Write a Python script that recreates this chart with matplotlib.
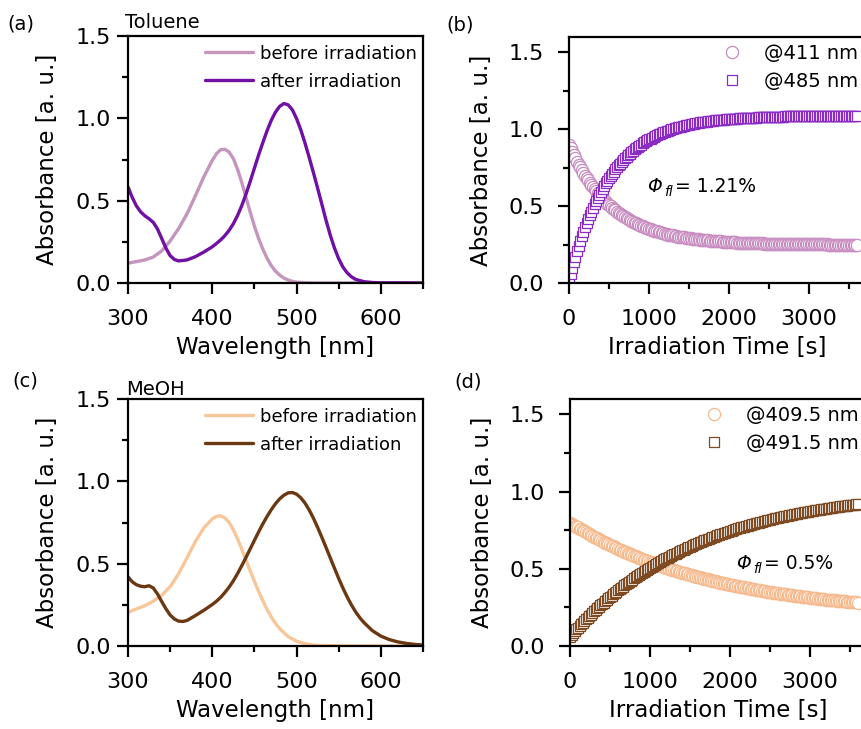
import matplotlib
matplotlib.use("Agg")
import matplotlib.pyplot as plt
from matplotlib.ticker import MultipleLocator, FormatStrFormatter
from matplotlib.transforms import offset_copy

plt.rcParams['font.family'] = ['DejaVu Sans']

# ---------------- UV-vis spectra ----------------
# Toluene
tol_wl_before = [300, 310, 320, 330, 340, 350, 360, 370, 380, 390, 400, 405, 410, 415, 420,
                 425, 430, 435, 440, 445, 450, 455, 460, 465, 470, 475, 480, 485, 490, 495,
                 500, 510, 520, 550, 600, 650]
tol_abs_before = [0.120, 0.130, 0.140, 0.158, 0.195, 0.255, 0.330, 0.420, 0.530, 0.645, 0.745,
                  0.785, 0.810, 0.812, 0.795, 0.755, 0.690, 0.610, 0.520, 0.430, 0.345, 0.270,
                  0.205, 0.150, 0.105, 0.072, 0.048, 0.030, 0.018, 0.010, 0.005, 0.002, 0.0,
                  0.0, 0.0, 0.0]
tol_wl_after = [300, 305, 310, 315, 320, 325, 330, 335, 340, 345, 350, 355, 360, 370, 380, 390,
                400, 405, 410, 415, 420, 425, 430, 435, 440, 445, 450, 455, 460, 465, 470, 475,
                480, 485, 490, 495, 500, 505, 510, 515, 520, 525, 530, 535, 540, 545, 550, 555,
                560, 565, 570, 580, 590, 600, 650]
tol_abs_after = [0.584, 0.520, 0.468, 0.432, 0.408, 0.390, 0.368, 0.328, 0.270, 0.212, 0.166,
                 0.143, 0.134, 0.140, 0.160, 0.188, 0.220, 0.240, 0.262, 0.288, 0.320, 0.360,
                 0.410, 0.470, 0.540, 0.617, 0.698, 0.778, 0.853, 0.925, 0.988, 1.038, 1.073,
                 1.090, 1.082, 1.052, 0.998, 0.930, 0.850, 0.762, 0.670, 0.575, 0.478, 0.380,
                 0.290, 0.212, 0.147, 0.097, 0.062, 0.038, 0.022, 0.008, 0.003, 0.001, 0.0]

# MeOH
meoh_wl_before = [300, 310, 320, 330, 340, 350, 360, 370, 380, 390, 400, 405, 410, 415, 420,
                  425, 430, 435, 440, 445, 450, 455, 460, 465, 470, 475, 480, 490, 500, 510,
                  520, 530, 550, 600, 650]
meoh_abs_before = [0.205, 0.225, 0.245, 0.272, 0.308, 0.360, 0.438, 0.535, 0.635, 0.718, 0.772,
                   0.787, 0.790, 0.778, 0.750, 0.706, 0.650, 0.588, 0.522, 0.456, 0.392, 0.332,
                   0.274, 0.222, 0.176, 0.137, 0.104, 0.057, 0.029, 0.014, 0.006, 0.003, 0.001,
                   0.0, 0.0]
meoh_wl_after = [300, 305, 310, 315, 320, 325, 330, 335, 340, 345, 350, 355, 360, 365, 370,
                 380, 390, 400, 405, 410, 415, 420, 425, 430, 435, 440, 445, 450, 455, 460,
                 465, 470, 475, 480, 485, 490, 495, 500, 505, 510, 515, 520, 525, 530, 535,
                 540, 545, 550, 555, 560, 565, 570, 575, 580, 590, 600, 610, 620, 630, 640,
                 650]
meoh_abs_after = [0.420, 0.390, 0.372, 0.363, 0.360, 0.366, 0.352, 0.316, 0.270, 0.226, 0.188,
                  0.164, 0.151, 0.149, 0.155, 0.185, 0.217, 0.252, 0.272, 0.296, 0.325, 0.358,
                  0.396, 0.440, 0.488, 0.538, 0.590, 0.642, 0.693, 0.742, 0.787, 0.828, 0.864,
                  0.894, 0.916, 0.930, 0.932, 0.922, 0.900, 0.868, 0.826, 0.776, 0.720, 0.660,
                  0.598, 0.535, 0.472, 0.410, 0.352, 0.298, 0.250, 0.208, 0.172, 0.142, 0.093,
                  0.060, 0.039, 0.025, 0.016, 0.010, 0.006]

# ---------------- Kinetics under irradiation ----------------
time_s = list(range(0, 3601, 20))

tol_411 = [
    0.900, 0.876, 0.854, 0.832, 0.810, 0.790, 0.770, 0.752, 0.733, 0.716,
    0.699, 0.683, 0.667, 0.652, 0.637, 0.623, 0.609, 0.596, 0.584, 0.572,
    0.560, 0.549, 0.538, 0.527, 0.517, 0.508, 0.498, 0.489, 0.480, 0.472,
    0.464, 0.456, 0.449, 0.441, 0.435, 0.428, 0.421, 0.415, 0.409, 0.403,
    0.398, 0.392, 0.387, 0.382, 0.377, 0.373, 0.368, 0.364, 0.360, 0.356,
    0.352, 0.348, 0.345, 0.341, 0.338, 0.335, 0.332, 0.329, 0.326, 0.323,
    0.320, 0.318, 0.315, 0.313, 0.311, 0.309, 0.306, 0.304, 0.302, 0.301,
    0.299, 0.297, 0.296, 0.294, 0.293, 0.291, 0.290, 0.288, 0.287, 0.285,
    0.284, 0.283, 0.282, 0.281, 0.280, 0.279, 0.278, 0.277, 0.276, 0.275,
    0.274, 0.273, 0.272, 0.271, 0.271, 0.270, 0.269, 0.268, 0.267, 0.267,
    0.266, 0.265, 0.265, 0.264, 0.264, 0.263, 0.263, 0.262, 0.262, 0.261,
    0.261, 0.260, 0.260, 0.259, 0.259, 0.259, 0.258, 0.258, 0.258, 0.257,
    0.257, 0.257, 0.256, 0.256, 0.256, 0.256, 0.255, 0.255, 0.255, 0.255,
    0.255, 0.254, 0.254, 0.254, 0.254, 0.254, 0.253, 0.253, 0.253, 0.253,
    0.253, 0.253, 0.253, 0.252, 0.252, 0.252, 0.252, 0.252, 0.252, 0.252,
    0.252, 0.251, 0.251, 0.251, 0.251, 0.251, 0.251, 0.251, 0.251, 0.251,
    0.251, 0.251, 0.250, 0.250, 0.250, 0.250, 0.250, 0.250, 0.250, 0.250,
    0.250, 0.250, 0.250, 0.250, 0.250, 0.250, 0.250, 0.250, 0.250, 0.250,
    0.250]

tol_485 = [
    0.020, 0.060, 0.099, 0.137, 0.172, 0.207, 0.240, 0.273, 0.303, 0.333,
    0.362, 0.389, 0.416, 0.441, 0.465, 0.489, 0.512, 0.534, 0.555, 0.575,
    0.594, 0.613, 0.631, 0.648, 0.665, 0.681, 0.696, 0.711, 0.725, 0.739,
    0.752, 0.765, 0.777, 0.789, 0.801, 0.811, 0.822, 0.832, 0.842, 0.851,
    0.860, 0.869, 0.877, 0.885, 0.893, 0.900, 0.908, 0.914, 0.921, 0.927,
    0.934, 0.939, 0.945, 0.951, 0.956, 0.961, 0.966, 0.970, 0.975, 0.979,
    0.983, 0.987, 0.991, 0.995, 0.999, 1.002, 1.005, 1.009, 1.012, 1.015,
    1.017, 1.020, 1.023, 1.025, 1.028, 1.030, 1.032, 1.034, 1.037, 1.038,
    1.041, 1.042, 1.044, 1.046, 1.047, 1.049, 1.050, 1.052, 1.053, 1.054,
    1.056, 1.057, 1.058, 1.059, 1.060, 1.061, 1.062, 1.063, 1.064, 1.065,
    1.066, 1.067, 1.067, 1.068, 1.069, 1.069, 1.070, 1.071, 1.071, 1.072,
    1.073, 1.073, 1.074, 1.074, 1.075, 1.075, 1.076, 1.076, 1.077, 1.077,
    1.078, 1.078, 1.078, 1.079, 1.079, 1.080, 1.080, 1.080, 1.081, 1.081,
    1.081, 1.082, 1.082, 1.082, 1.082, 1.083, 1.083, 1.083, 1.083, 1.084,
    1.084, 1.084, 1.084, 1.084, 1.085, 1.085, 1.085, 1.085, 1.085, 1.085,
    1.086, 1.086, 1.086, 1.086, 1.086, 1.086, 1.086, 1.087, 1.087, 1.087,
    1.087, 1.087, 1.087, 1.087, 1.087, 1.087, 1.088, 1.088, 1.088, 1.088,
    1.088, 1.088, 1.088, 1.088, 1.088, 1.088, 1.088, 1.088, 1.088, 1.088,
    1.088]

meoh_409 = [
    0.800, 0.793, 0.787, 0.780, 0.774, 0.768, 0.761, 0.755, 0.749, 0.743,
    0.737, 0.731, 0.725, 0.720, 0.714, 0.708, 0.702, 0.697, 0.691, 0.686,
    0.680, 0.675, 0.670, 0.665, 0.660, 0.655, 0.650, 0.645, 0.640, 0.635,
    0.630, 0.625, 0.621, 0.616, 0.612, 0.607, 0.602, 0.598, 0.594, 0.589,
    0.585, 0.581, 0.577, 0.572, 0.568, 0.564, 0.560, 0.556, 0.552, 0.548,
    0.544, 0.541, 0.537, 0.533, 0.530, 0.526, 0.522, 0.519, 0.515, 0.512,
    0.508, 0.505, 0.501, 0.498, 0.495, 0.491, 0.488, 0.485, 0.482, 0.479,
    0.476, 0.473, 0.470, 0.467, 0.464, 0.461, 0.458, 0.455, 0.452, 0.449,
    0.447, 0.444, 0.441, 0.439, 0.436, 0.433, 0.431, 0.428, 0.426, 0.423,
    0.421, 0.418, 0.416, 0.414, 0.411, 0.409, 0.407, 0.404, 0.402, 0.400,
    0.398, 0.395, 0.393, 0.391, 0.389, 0.387, 0.385, 0.383, 0.381, 0.379,
    0.377, 0.375, 0.373, 0.371, 0.369, 0.367, 0.365, 0.364, 0.362, 0.360,
    0.358, 0.356, 0.355, 0.353, 0.351, 0.350, 0.348, 0.346, 0.345, 0.343,
    0.342, 0.340, 0.338, 0.337, 0.335, 0.334, 0.332, 0.331, 0.329, 0.328,
    0.327, 0.325, 0.324, 0.322, 0.321, 0.320, 0.319, 0.317, 0.316, 0.315,
    0.313, 0.312, 0.311, 0.310, 0.308, 0.307, 0.306, 0.305, 0.304, 0.302,
    0.301, 0.300, 0.299, 0.298, 0.297, 0.296, 0.295, 0.294, 0.293, 0.292,
    0.291, 0.290, 0.289, 0.288, 0.287, 0.286, 0.285, 0.284, 0.283, 0.282,
    0.281]

meoh_491 = [
    0.060, 0.072, 0.083, 0.095, 0.107, 0.118, 0.129, 0.140, 0.151, 0.162,
    0.173, 0.183, 0.193, 0.204, 0.214, 0.224, 0.234, 0.244, 0.253, 0.263,
    0.272, 0.281, 0.291, 0.300, 0.309, 0.318, 0.326, 0.335, 0.343, 0.352,
    0.360, 0.368, 0.376, 0.384, 0.392, 0.400, 0.408, 0.415, 0.423, 0.430,
    0.438, 0.445, 0.452, 0.459, 0.466, 0.473, 0.480, 0.486, 0.493, 0.500,
    0.506, 0.512, 0.519, 0.525, 0.531, 0.537, 0.543, 0.549, 0.555, 0.561,
    0.567, 0.572, 0.578, 0.583, 0.589, 0.594, 0.599, 0.604, 0.609, 0.615,
    0.620, 0.625, 0.629, 0.634, 0.639, 0.644, 0.649, 0.653, 0.658, 0.662,
    0.667, 0.671, 0.676, 0.680, 0.684, 0.688, 0.692, 0.696, 0.700, 0.704,
    0.708, 0.712, 0.716, 0.720, 0.723, 0.727, 0.731, 0.734, 0.738, 0.741,
    0.745, 0.748, 0.752, 0.755, 0.758, 0.762, 0.765, 0.768, 0.771, 0.774,
    0.777, 0.780, 0.783, 0.786, 0.789, 0.792, 0.795, 0.798, 0.800, 0.803,
    0.806, 0.809, 0.811, 0.814, 0.816, 0.819, 0.821, 0.824, 0.826, 0.829,
    0.831, 0.833, 0.836, 0.838, 0.840, 0.842, 0.845, 0.847, 0.849, 0.851,
    0.853, 0.855, 0.857, 0.859, 0.861, 0.863, 0.865, 0.867, 0.869, 0.871,
    0.873, 0.875, 0.877, 0.878, 0.880, 0.882, 0.884, 0.885, 0.887, 0.888,
    0.890, 0.892, 0.893, 0.895, 0.896, 0.898, 0.899, 0.901, 0.902, 0.904,
    0.905, 0.907, 0.908, 0.910, 0.911, 0.912, 0.914, 0.915, 0.916, 0.918,
    0.919]

# ---------------- colours ----------------
c_tol_before = '#c595bd'
c_tol_after = '#7010a4'
c_tol_circ = '#c88cc0'
c_tol_sq = '#8a2cc4'
c_meoh_before = '#f9c699'
c_meoh_after = '#6b3812'
c_meoh_circ = '#f6b98c'
c_meoh_sq = '#7d4a22'

W, H = 861, 729
fig = plt.figure(figsize=(W / 100, H / 100), dpi=100)


def px_axes(left, top, right, bottom):
    return fig.add_axes([left / W, 1 - bottom / H, (right - left) / W, (bottom - top) / H])


def style(ax, ypad):
    for s in ax.spines.values():
        s.set_linewidth(1.6)
    ax.tick_params(which='both', direction='out', width=1.6, top=False, right=False)
    ax.tick_params(which='major', length=8, labelsize=16)
    ax.tick_params(which='minor', length=4)
    ax.tick_params(axis='x', pad=11)
    ax.tick_params(axis='y', pad=ypad)
    ax.yaxis.set_major_locator(MultipleLocator(0.5))
    ax.yaxis.set_minor_locator(MultipleLocator(0.25))
    ax.yaxis.set_major_formatter(FormatStrFormatter('%.1f'))


def spectrum(ax, wl_b, ab_b, wl_a, ab_a, cb, ca):
    ax.plot(wl_b, ab_b, color=cb, lw=2.4, label='before irradiation', solid_capstyle='round')
    ax.plot(wl_a, ab_a, color=ca, lw=2.4, label='after irradiation', solid_capstyle='round')
    ax.set_xlim(300, 650)
    ax.set_ylim(0, 1.5)
    ax.xaxis.set_major_locator(MultipleLocator(100))
    ax.xaxis.set_minor_locator(MultipleLocator(50))
    style(ax, 4)
    ax.set_xlabel('Wavelength [nm]', fontsize=16.5, labelpad=5)
    ax.set_ylabel('Absorbance [a. u.]', fontsize=16.5, labelpad=12)
    ax.legend(loc='upper right', bbox_to_anchor=(1.0, 0.99), frameon=False, fontsize=13,
              handlelength=2.7, handletextpad=0.35, labelspacing=0.55, borderaxespad=0.15,
              borderpad=0.2)


def phi_label(ax, x, y, value):
    tr = ax.transData
    ax.text(x, y, '\u03a6', fontsize=13.5, style='italic', va='center', ha='left',
            transform=tr)
    ax.text(x, y, 'fl', fontsize=10, style='italic', va='center', ha='left',
            transform=offset_copy(tr, fig=fig, x=12.5, y=-4.5, units='points'))
    ax.text(x, y, value, fontsize=13.5, va='center', ha='left',
            transform=offset_copy(tr, fig=fig, x=20, y=0, units='points'))


def kinetics(ax, y_c, y_s, cc, cs, lab_c, lab_s, phi, phi_xy):
    ax.plot(time_s, y_c, ls='none', marker='o', ms=8.8, mfc='white', mec=cc, mew=0.9,
            label=lab_c)
    ax.plot(time_s, y_s, ls='none', marker='s', ms=7.4, mfc='white', mec=cs, mew=0.9,
            label=lab_s)
    ax.set_xlim(0, 3700)
    ax.set_ylim(0, 1.6)
    ax.xaxis.set_major_locator(MultipleLocator(1000))
    ax.xaxis.set_minor_locator(MultipleLocator(500))
    style(ax, 10)
    ax.spines['right'].set_visible(False)
    ax.set_xlabel('Irradiation Time [s]', fontsize=16.5, labelpad=5)
    ax.set_ylabel('Absorbance [a. u.]', fontsize=16.5, labelpad=11)
    ax.legend(loc='upper right', frameon=False, fontsize=14, handlelength=1.2,
              handletextpad=1.05, labelspacing=0.45, borderaxespad=0.15, borderpad=0.2)
    phi_label(ax, phi_xy[0], phi_xy[1], phi)


ax_a = px_axes(128, 36, 423, 283)
spectrum(ax_a, tol_wl_before, tol_abs_before, tol_wl_after, tol_abs_after,
         c_tol_before, c_tol_after)

ax_b = px_axes(569, 37, 865, 283)
kinetics(ax_b, tol_411, tol_485, c_tol_circ, c_tol_sq, '@411 nm', '@485 nm',
         '= 1.21%', (975, 0.63))

ax_c = px_axes(128, 399, 423, 646)
spectrum(ax_c, meoh_wl_before, meoh_abs_before, meoh_wl_after, meoh_abs_after,
         c_meoh_before, c_meoh_after)

ax_d = px_axes(570, 399, 866, 646)
kinetics(ax_d, meoh_409, meoh_491, c_meoh_circ, c_meoh_sq, '@409.5 nm', '@491.5 nm',
         '= 0.5%', (2075, 0.537))

# panel tags and solvent names
fig.text(7 / W, 1 - 24 / H, '(a)', fontsize=14, va='center', ha='left')
fig.text(446 / W, 1 - 25 / H, '(b)', fontsize=14, va='center', ha='left')
fig.text(12 / W, 1 - 381 / H, '(c)', fontsize=14, va='center', ha='left')
fig.text(454 / W, 1 - 382 / H, '(d)', fontsize=14, va='center', ha='left')
fig.text(125 / W, 1 - 28 / H, 'Toluene', fontsize=14, va='baseline', ha='left')
fig.text(126 / W, 1 - 395 / H, 'MeOH', fontsize=14, va='baseline', ha='left')

fig.savefig('out.png', dpi=100)
